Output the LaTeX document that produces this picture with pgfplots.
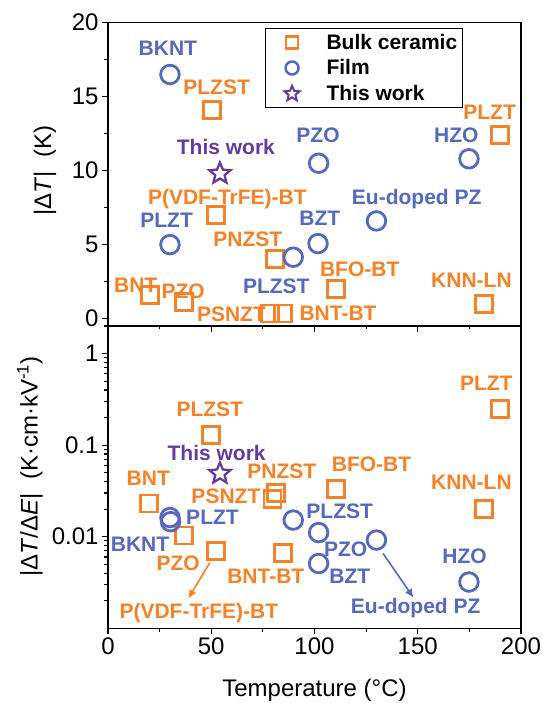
\documentclass[border=0pt]{standalone}
\usepackage{fontspec}
\setmainfont{Liberation Sans}
\usepackage{pgfplots}
\pgfplotsset{compat=1.18}
\usetikzlibrary{arrows.meta}
\definecolor{cor}{RGB}{245,130,40}
\definecolor{cbl}{RGB}{85,105,190}
\definecolor{cpu}{RGB}{100,60,160}
\newcommand\lbf{\fontsize{21}{24}\bfseries\selectfont}
\newcommand\tkf{\fontsize{24}{28}\selectfont}
\newcommand\lgt[1]{\makebox[117pt][l]{#1}}
\pgfdeclareplotmark{hstar}{%
  \pgfpathmoveto{\pgfpointpolar{90}{\pgfplotmarksize}}%
  \pgfpathlineto{\pgfpointpolar{126}{0.45\pgfplotmarksize}}%
  \pgfpathlineto{\pgfpointpolar{162}{\pgfplotmarksize}}%
  \pgfpathlineto{\pgfpointpolar{198}{0.45\pgfplotmarksize}}%
  \pgfpathlineto{\pgfpointpolar{234}{\pgfplotmarksize}}%
  \pgfpathlineto{\pgfpointpolar{270}{0.45\pgfplotmarksize}}%
  \pgfpathlineto{\pgfpointpolar{306}{\pgfplotmarksize}}%
  \pgfpathlineto{\pgfpointpolar{342}{0.45\pgfplotmarksize}}%
  \pgfpathlineto{\pgfpointpolar{18}{\pgfplotmarksize}}%
  \pgfpathlineto{\pgfpointpolar{54}{0.45\pgfplotmarksize}}%
  \pgfpathclose
  \pgfusepathqstroke}
\tikzset{lb/.style={font=\lbf, inner sep=0pt, anchor=center, text height=15pt, text depth=0pt}}
\pgfplotsset{
  common/.style={
    scale only axis, width=413pt,
    xmin=0, xmax=200,
    axis line style={line width=1.2pt},
    tick style={line width=1.1pt, black},
    tick align=outside,
    major tick length=6pt, minor tick length=3.5pt,
    xtick pos=bottom, ytick pos=left,
    xtick={0,50,...,200}, minor xtick={25,75,125,175},
    tick label style={font=\tkf},
    /pgf/number format/assume math mode=true,
    label style={font=\tkf},
    clip=false,
  },
  bulk/.style={only marks, mark=square, color=cor, mark size=8.5pt, line width=2.8pt},
  film/.style={only marks, mark=o, color=cbl, mark size=9.3pt, line width=2.8pt},
  tw/.style={only marks, mark=hstar, color=cpu, mark size=11pt, line width=2.3pt, mark options={line join=miter}},
}
\begin{document}
\begin{tikzpicture}
\useasboundingbox (-108pt,-74.7pt) rectangle (434pt,628.3pt);
% ---------------- top panel ----------------
\begin{axis}[common, at={(0pt,302.3pt)}, height=303.3pt,
  ymin=-0.5, ymax=20, ytick={0,5,...,20}, minor ytick={2.5,7.5,12.5,17.5},
  xticklabels={},
  ylabel={|Δ\textit{T}|\ \ (K)},
  ylabel style={at={(axis description cs:-0.1525,0.512)}, anchor=center},
  legend style={at={(0.38,0.981)}, anchor=north west, draw=black, line width=1pt,
    font=\lbf, inner xsep=19pt, inner ysep=3pt, row sep=5pt,
    /tikz/every odd column/.append style={column sep=18pt},
    nodes={font=\lbf, inner ysep=2pt, inner xsep=0pt}},
  legend cell align=left,
]
\addplot[bulk, forget plot] table {
x y
50.2 14.1
52.2 7.0
20.3 1.6
36.9 1.1
78.5 0.35
80.8 4.05
110.3 2.0
182 1.0
84.8 0.35
190 12.4
};
\addplot[film, forget plot] table {
x y
30 16.5
30 5.0
89.7 4.15
101.7 5.07
102 10.5
130 6.6
174.8 10.8
};
\addplot[tw, forget plot] table {
x y
54.2 9.8
};
\addlegendimage{legend image code/.code={\node[draw=none, fill=none, inner sep=0pt, minimum width=16pt, minimum height=12pt, font=] at (0pt,0pt) {}; \draw[cor, line width=2.5pt] plot[mark=square, mark size=6pt] coordinates {(0pt,0pt)};}}
\addlegendentry{\lgt{Bulk ceramic}}
\addlegendimage{legend image code/.code={\node[draw=none, fill=none, inner sep=0pt, minimum width=16pt, minimum height=12pt, font=] at (0pt,0pt) {}; \draw[cbl, line width=2.5pt] plot[mark=o, mark size=6.5pt] coordinates {(0pt,0pt)};}}
\addlegendentry{\lgt{Film}}
\addlegendimage{legend image code/.code={\node[draw=none, fill=none, inner sep=0pt, minimum width=16pt, minimum height=12pt, font=] at (0pt,0pt) {}; \draw[cpu, line width=2pt, line join=miter] plot[mark=hstar, mark size=8pt] coordinates {(0pt,0pt)};}}
\addlegendentry{\lgt{This work}}
% labels
\node[lb, cbl] at (axis cs:29,18.27) {BKNT};
\node[lb, cbl] at (axis cs:28.4,6.65) {PLZT};
\node[lb, cbl] at (axis cs:81.5,2.19) {PLZST};
\node[lb, cbl] at (axis cs:102.6,6.77) {BZT};
\node[lb, cbl] at (axis cs:101.7,12.4) {PZO};
\node[lb, cbl] at (axis cs:149.5,8.19) {Eu-doped PZ};
\node[lb, cbl] at (axis cs:168.7,12.4) {HZO};
\node[lb, cor] at (axis cs:52.6,15.63) {PLZST};
\node[lb, cor] at (axis cs:57.8,8.23) {P(VDF-TrFE)-BT};
\node[lb, cor] at (axis cs:67.7,5.35) {PNZST};
\node[lb, cor] at (axis cs:13.4,2.25) {BNT};
\node[lb, cor] at (axis cs:36.4,1.87) {PZO};
\node[lb, cor] at (axis cs:59.8,0.34) {PSNZT};
\node[lb, cor] at (axis cs:184.8,13.98) {PLZT};
\node[lb, cor] at (axis cs:121.9,3.38) {BFO-BT};
\node[lb, cor] at (axis cs:176,2.59) {KNN-LN};
\node[lb, cor] at (axis cs:111.4,0.41) {BNT-BT};
\node[lb, cpu] at (axis cs:57.1,11.61) {This work};
\end{axis}
% ---------------- bottom panel ----------------
\begin{axis}[common, at={(0pt,0pt)}, height=302.3pt,
  ymode=log, ymin=0.001, ymax=2,
  ytick={0.01,0.1,1}, yticklabels={0.01,0.1,1},
  minor ytick={0.002,0.003,0.004,0.005,0.006,0.007,0.008,0.009,0.02,0.03,0.04,0.05,0.06,0.07,0.08,0.09,0.2,0.3,0.4,0.5,0.6,0.7,0.8,0.9,2},
  xlabel={Temperature (°C)},
  xlabel style={at={(axis description cs:0.5,-0.204)}, anchor=center},
  ylabel={|Δ\textit{T}/Δ\textit{E}|\ \ (K·cm·kV\textsuperscript{-1})},
  ylabel style={at={(axis description cs:-0.189,0.535)}, anchor=center},
]
\addplot[bulk] table {
x y
49.8 0.128
19.8 0.0231
36.9 0.0103
52.2 0.0070
79.7 0.0256
81.5 0.030
84.8 0.0066
110.3 0.033
182 0.020
190 0.246
};
\addplot[film] table {
x y
30 0.0162
30.3 0.0146
89.7 0.0152
102 0.0111
102 0.0051
130 0.0092
174.8 0.0032
};
\addplot[tw] table {
x y
54.2 0.049
};
\draw[cor, line width=1.6pt, -{Latex[length=9pt,width=8pt]}] (axis cs:49.3,0.0052) -- (axis cs:38.8,0.0021);
\draw[cbl, line width=1.6pt, -{Latex[length=9pt,width=8pt]}] (axis cs:133.2,0.00657) -- (axis cs:148.0,0.00215);
\node[lb, cor] at (axis cs:49.3,0.25) {PLZST};
\node[lb, cor] at (axis cs:19.5,0.0434) {BNT};
\node[lb, cor] at (axis cs:57.1,0.0275) {PSNZT};
\node[lb, cor] at (axis cs:84.2,0.0521) {PNZST};
\node[lb, cor] at (axis cs:34.0,0.0052) {PZO};
\node[lb, cor] at (axis cs:44.0,0.00154) {P(VDF-TrFE)-BT};
\node[lb, cor] at (axis cs:76.4,0.00371) {BNT-BT};
\node[lb, cor] at (axis cs:127.6,0.0617) {BFO-BT};
\node[lb, cor] at (axis cs:176,0.0395) {KNN-LN};
\node[lb, cor] at (axis cs:183.2,0.482) {PLZT};
\node[lb, cbl] at (axis cs:50.6,0.0165) {PLZT};
\node[lb, cbl] at (axis cs:15.5,0.00838) {BKNT};
\node[lb, cbl] at (axis cs:112.2,0.0190) {PLZST};
\node[lb, cbl] at (axis cs:115.1,0.00727) {PZO};
\node[lb, cbl] at (axis cs:117.1,0.00371) {BZT};
\node[lb, cbl] at (axis cs:172.7,0.00614) {HZO};
\node[lb, cbl] at (axis cs:149,0.00175) {Eu-doped PZ};
\node[lb, cpu] at (axis cs:52.6,0.0828) {This work};
\end{axis}
\end{tikzpicture}
\end{document}
